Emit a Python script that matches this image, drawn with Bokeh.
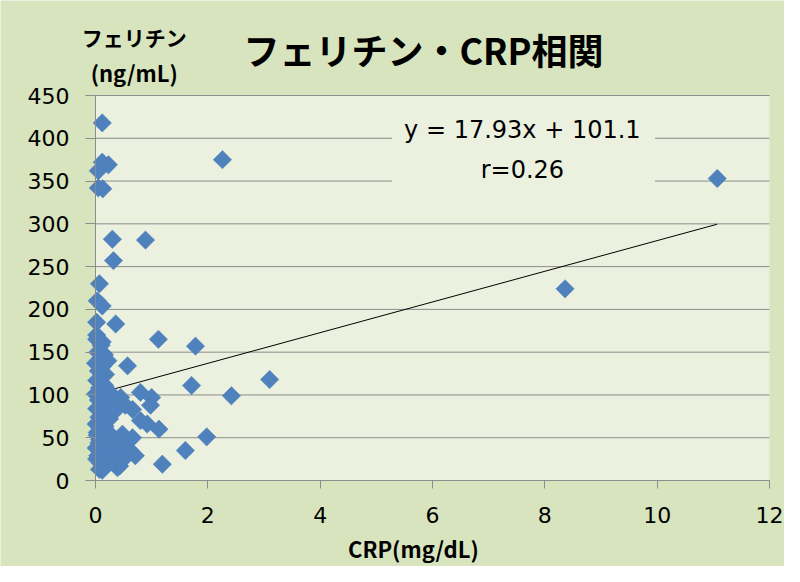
import numpy as np
from bokeh.plotting import figure
from bokeh.models import Label, BoxAnnotation, FixedTicker, ColumnDataSource, Range1d
from bokeh.embed import file_html
from bokeh.resources import INLINE

# --- data ---
crp = [0.12, 2.26, 11.07, 8.36, 0.05, 0.12, 0.23, 0.05, 0.13, 0.30, 0.89, 0.32,
       0.07, 0.03, 0.12, 0.02, 0.36, 0.02, 0.12, 1.12, 1.78, 0.57, 3.10, 1.71,
       2.42, 0.80, 1.00, 0.98, 0.45, 0.66, 0.80, 0.92, 1.13, 1.98, 1.60, 1.19,
       0.66, 0.51, 0.71, 0.53, 0.39, 0.07, 0.43, 0.25,
       0.02, 0.10, 0.04, 0.16, 0.08, 0.00, 0.13, 0.05, 0.18, 0.10, 0.02, 0.15,
       0.07, 0.21, 0.00, 0.12, 0.05, 0.18, 0.09, 0.02, 0.14, 0.24, 0.06, 0.11,
       0.01, 0.17, 0.08, 0.22, 0.03, 0.13, 0.27, 0.06, 0.19, 0.01, 0.10, 0.24,
       0.04, 0.15, 0.32, 0.08, 0.20, 0.02, 0.12, 0.28, 0.33, 0.30, 0.22, 0.03,
       0.07, 0.17, 0.36, 0.53, 0.48, 0.60, 0.40, 0.45, 0.50]
ferritin = [418, 375, 353, 224, 362, 372, 369, 342, 341, 282, 281, 257,
            230, 210, 204, 185, 183, 170, 162, 165, 157, 134, 118, 111,
            99, 103, 97, 88, 97, 83, 70, 66, 60, 51, 35, 19,
            50, 51, 29, 27, 15, 13, 17, 72,
            165, 158, 150, 147, 142, 137, 134, 128, 124, 121, 117, 112,
            108, 104, 101, 98, 94, 91, 87, 84, 80, 77, 74, 70,
            66, 63, 60, 57, 53, 50, 47, 44, 41, 38, 35, 33,
            29, 26, 24, 21, 18, 25, 12, 88, 80, 100, 140, 56,
            48, 110, 95, 88, 54, 36, 34, 30, 42]

slope = 17.93
intercept = 101.1
equation_text = "y = 17.93x + 101.1"
r_text = "r=0.26"
x_ticks = [0, 2, 4, 6, 8, 10, 12]
y_ticks = [0, 50, 100, 150, 200, 250, 300, 350, 400, 450]
x_min, x_max = 0, 12
y_min, y_max = 0, 450

title_text = "フェリチン・CRP相関"
y_label_1 = "フェリチン"
y_label_2 = "(ng/mL)"
x_label = "CRP(mg/dL)"

OUTER = "#D7E4BD"
INNER = "#EBF1DE"
BLUE = "#4F81BD"
GRID = "#8C8C8C"
JP = "Noto Sans CJK JP"

# canvas layout (pixels): plot area inside a full-canvas frame
W, H = 784, 566
PL, PR, PT, PB = 95, 769, 95, 480          # plot-area edges on the canvas
kx = (PR - PL) / (x_max - x_min)
ky = (PB - PT) / (y_max - y_min)
x_range = Range1d(x_min - PL / kx, x_max + (W - PR) / kx)
y_range = Range1d(y_min - (H - PB) / ky, y_max + PT / ky)

p = figure(frame_width=W, frame_height=H, x_range=x_range, y_range=y_range,
           output_backend="svg", toolbar_location=None,
           min_border_left=0, min_border_right=0,
           min_border_top=0, min_border_bottom=0)
p.background_fill_color = OUTER
p.border_fill_color = OUTER
p.outline_line_color = None
p.xgrid.grid_line_color = None
p.ygrid.grid_line_color = None

# plot area
p.quad(left=[x_min], right=[x_max], bottom=[y_min], top=[y_max],
       fill_color=INNER, line_color=None, level="underlay")
# horizontal gridlines over the plot area only
p.segment(x0=[x_min] * len(y_ticks), y0=y_ticks,
          x1=[x_max] * len(y_ticks), y1=y_ticks,
          line_color=GRID, line_width=1)

for ax in (p.xaxis[0], p.yaxis[0]):
    ax.axis_line_color = GRID
    ax.major_tick_line_color = GRID
    ax.minor_tick_line_color = None
    ax.major_tick_in = 0
    ax.major_label_text_font = "DejaVu Sans"
    ax.major_label_text_font_size = "22px"
    ax.major_label_text_color = "black"

p.xaxis.ticker = FixedTicker(ticks=x_ticks)
p.yaxis.ticker = FixedTicker(ticks=y_ticks)
p.xaxis.bounds = (x_min, x_max)
p.yaxis.bounds = (y_min, y_max)
p.yaxis.fixed_location = x_min
p.xaxis.fixed_location = y_min
p.xaxis.major_tick_out = 8
p.xaxis.major_label_standoff = 18
p.yaxis.major_tick_out = 10
p.yaxis.major_label_standoff = 16

# trendline (from the fit, over the data's x span)
xs = [min(crp), max(crp)]
ys = [slope * v + intercept for v in xs]
p.line(xs, ys, line_color="black", line_width=1)

src = ColumnDataSource(dict(x=crp, y=ferritin))
p.scatter("x", "y", source=src, marker="square", size=13, angle=np.pi / 4,
          fill_color=BLUE, line_color=BLUE, line_width=0.5)

# background box behind the equation (hides gridlines)
p.add_layout(BoxAnnotation(left=5.28, right=9.96, bottom=342, top=430,
                           fill_color=INNER, fill_alpha=1.0,
                           line_alpha=0.0, level="annotation"))

def label(x, y, text, size, font, bold=False):
    return Label(x=x, y=y, text=text, text_align="center",
                 text_baseline="middle", text_font=font,
                 text_font_style="bold" if bold else "normal",
                 text_font_size=size, text_color="black")

p.add_layout(label(7.6, 410, equation_text, "24px", "DejaVu Sans"))
p.add_layout(label(7.6, 363, r_text, "24px", "DejaVu Sans"))

# title and axis labels
p.add_layout(label(5.84, 504, title_text, "36px", JP, True))
p.add_layout(label(0.69, 518, y_label_1, "21px", JP, True))
p.add_layout(label(0.69, 478, y_label_2, "22px", JP, True))
p.add_layout(label(5.66, -79, x_label, "22px", JP, True))

open("out.html", "w").write(file_html(p, INLINE))
